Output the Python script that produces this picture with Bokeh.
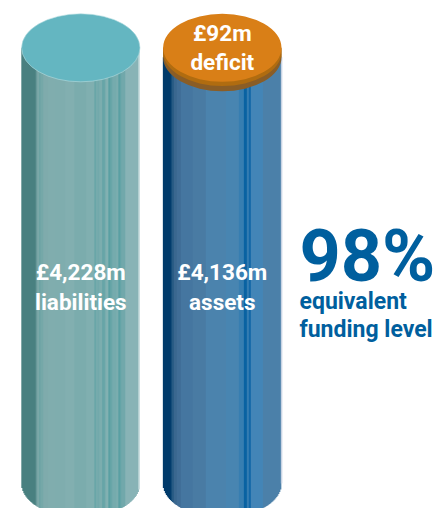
from bokeh.plotting import figure
from bokeh.models import ColumnDataSource, Range1d
from bokeh.core.properties import value
from bokeh.embed import file_html
from bokeh.resources import INLINE
import math

# --- data
categories = ["liabilities", "assets"]
liabilities = 4228
assets = 4136
deficit = 92
funding_level = 98
liabilities_labels = ["£4,228m", "liabilities"]
assets_labels = ["£4,136m", "assets"]
deficit_labels = ["£92m", "deficit"]
headline_sub = ["equivalent", "funding level"]

# --- style: shading bands (width in px, colour), left to right
teal_bands = [(14,"#3f7a7a"),(1,"#4c8585"),(1,"#69999a"),(2,"#74a3a4"),(1,"#5f9b9c"),(3,"#6ea3a3"),(5,"#78a7a8"),
              (7,"#7aa9aa"),(10,"#78a9aa"),(9,"#7cabac"),(12,"#74a8a9"),(8,"#7aabac"),(2,"#62a1a3"),(1,"#74a9aa"),
              (2,"#6aa5a7"),(3,"#74a9aa"),(1,"#589da0"),(2,"#62a2a4"),(1,"#78abac"),(2,"#7cadae"),(2,"#529b9f"),(2,"#62a2a4"),
              (4,"#6da7a9"),(2,"#74a9ab"),(2,"#529b9f"),(1,"#62a2a5"),(4,"#69a4a7"),(13,"#82afb3"),(1,"#c4dadc")]
blue_bands = [(8,"#003a6b"),(1,"#114a78"),(2,"#275a84"),(3,"#3a678f"),(4,"#406d96"),(12,"#4677a0"),(13,"#4a7ba3"),(20,"#4c84ad"),(13,"#4986b2"),
              (5,"#387fb2"),(3,"#0a62a2"),(2,"#347cb2"),(2,"#1468a8"),(12,"#4486b8"),(18,"#4c80a9"),(1,"#c8d4e4")]

W, H = 440, 508
PX_PER_SLOT = 141.5          # centre-to-centre distance
RADIUS_PX = 59.2
ELL_PX = 34.0                # half height of the ellipses
ZERO_Y = 483.0               # page y of value 0
TOP_Y = 47.3                 # page y of value = liabilities
UNIT = liabilities / (ZERO_Y - TOP_Y)   # value per px
LEFT_X = 80.3

def sy(page_y):
    return (ZERO_Y - page_y) * UNIT

def sx(page_x):
    return (page_x - LEFT_X) / PX_PER_SLOT

p = figure(width=W, height=H, output_backend="svg", toolbar_location=None,
           x_range=Range1d(sx(0), sx(W)), y_range=Range1d(sy(H), sy(0)),
           min_border=0, min_border_left=0, min_border_right=0, min_border_top=0, min_border_bottom=0)
p.axis.visible = False
p.grid.visible = False
p.outline_line_color = None
p.background_fill_color = None
p.border_fill_color = None

r = RADIUS_PX / PX_PER_SLOT
eh = ELL_PX * UNIT

def body(slot, top, bands):
    xs, tops, bottoms, cols = [], [], [], []
    off = -RADIUS_PX
    for w, c in bands:
        for i in range(w):
            mid = off + i + 0.5
            t = max(0.0, 1 - (mid / RADIUS_PX) ** 2)
            xs.append(slot + mid / PX_PER_SLOT)
            tops.append(top)
            bottoms.append(-eh * math.sqrt(t))
            cols.append(c)
        off += w
    src = ColumnDataSource(dict(x=xs, top=tops, bottom=bottoms, color=cols))
    p.vbar(x="x", top="top", bottom="bottom", width=1.5 / PX_PER_SLOT, source=src,
           fill_color="color", fill_alpha=1.0, line_color=None)

body(0, liabilities, teal_bands)
body(1, assets, blue_bands)

# liabilities cap
p.ellipse(x=[0], y=[liabilities], width=[2 * r], height=[2 * eh],
          fill_color="#64b6c1", fill_alpha=1.0, line_color="#b5dde0", line_width=0.6)

# deficit disc on top of assets
p.ellipse(x=[1], y=[assets], width=[2 * r], height=[2 * eh], fill_color="#8a5d26", fill_alpha=1.0, line_color=None)
p.vbar(x=[1], top=[liabilities], bottom=[assets], width=[2 * r], fill_color="#a9690f", fill_alpha=1.0, line_color=None)
p.ellipse(x=[1], y=[assets + deficit * 0.55], width=[2 * r], height=[2 * eh], fill_color="#b06c10", fill_alpha=1.0, line_color=None)
p.ellipse(x=[1], y=[assets + deficit], width=[2 * r], height=[2 * eh], fill_color="#d97f17", fill_alpha=1.0, line_color=None)

def label(xs, ys, text, size, color, align="center", font="Roboto"):
    p.text(x=xs, y=ys, text=text, text_font=value(font), text_font_size=size, text_font_style="bold",
           text_color=color, text_align=align, text_baseline="alphabetic")

label([0, 0], [sy(271), sy(301)], liabilities_labels, "22.5px", "#ffffff")
label([1, 1], [sy(271), sy(301)], assets_labels, "22.5px", "#ffffff")
label([1, 1], [sy(32), sy(61)], deficit_labels, "22.5px", "#ffffff")
label([sx(299)], [sy(256)], [f"{funding_level}%"], "72px", "#005f9e", "left")
label([sx(299), sx(299)], [sy(301), sy(329)], headline_sub, "23px", "#005f9e", "left")

open("out.html", "w").write(file_html(p, INLINE))
